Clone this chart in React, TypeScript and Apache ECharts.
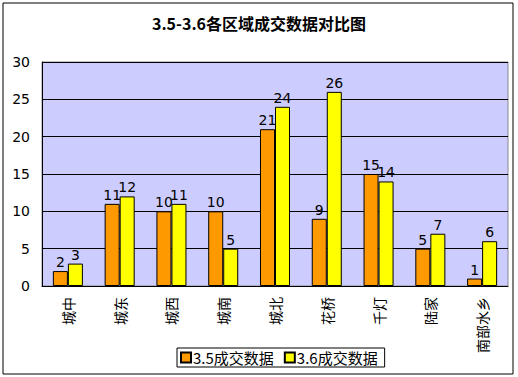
import React, { useEffect, useRef } from "react";
import * as echarts from "echarts";

const categories = ["城中", "城东", "城西", "城南", "城北", "花桥", "千灯", "陆家", "南部水乡"];
const series35 = [2, 11, 10, 10, 21, 9, 15, 5, 1];
const series36 = [3, 12, 11, 5, 24, 26, 14, 7, 6];
const seriesNames = ["3.5成交数据", "3.6成交数据"];
const titleText = "3.5-3.6各区域成交数据对比图";

export default function App() {
  const ref = useRef<HTMLDivElement>(null);
  useEffect(() => {
    document.body.style.margin = "0";
    const chart = echarts.init(ref.current!, null, { renderer: "svg" });
    const labelStyle = {
      show: true,
      position: "top" as const,
      color: "#000",
      fontSize: 14,
      fontFamily: "DejaVu Sans",
      distance: 2,
    };
    chart.setOption({
      animation: false,
      backgroundColor: "#fff",
      title: {
        text: titleText,
        left: "center",
        top: 10,
        textStyle: { fontSize: 16, fontWeight: "bold", color: "#000", fontFamily: "Noto Sans CJK SC" },
      },
      graphic: [
        {
          type: "rect",
          shape: { x: 3, y: 3, width: 510, height: 371 },
          style: { fill: "none", stroke: "#000", lineWidth: 1 },
          silent: true,
        },
      ],
      legend: {
        data: seriesNames,
        left: 177,
        top: 348,
        itemWidth: 10,
        itemHeight: 10,
        itemGap: 10,
        icon: "rect",
        borderColor: "#000",
        borderWidth: 1,
        padding: [2, 7, 2, 3],
        textStyle: { fontSize: 15, color: "#000", fontFamily: "Noto Sans CJK SC", padding: [0, 0, 0, -3] },
      },
      grid: { left: 42, right: 10, top: 62, bottom: 91, show: true, backgroundColor: "#CCCCFF", borderColor: "#888", borderWidth: 1 },
      xAxis: {
        type: "category",
        data: categories,
        axisLine: { lineStyle: { color: "#000" } },
        axisTick: { inside: true, length: 5, lineStyle: { color: "#000" } },
        axisLabel: { rotate: 90, color: "#000", fontSize: 14, margin: 11, fontFamily: "Noto Sans CJK SC" },
      },
      yAxis: {
        type: "value",
        min: 0,
        max: 30,
        interval: 5,
        axisLine: { show: true, lineStyle: { color: "#000" } },
        axisTick: { show: false },
        splitLine: { lineStyle: { color: "#000", width: 1 } },
        axisLabel: { color: "#000", fontSize: 14, margin: 12, fontFamily: "DejaVu Sans" },
      },
      series: [
        {
          name: seriesNames[0],
          type: "bar",
          data: series35,
          barGap: "0%",
          barCategoryGap: "42%",
          itemStyle: { color: "#FF9900", borderColor: "#000", borderWidth: 1 },
          label: labelStyle,
        },
        {
          name: seriesNames[1],
          type: "bar",
          data: series36,
          itemStyle: { color: "#FFFF00", borderColor: "#000", borderWidth: 1 },
          label: labelStyle,
        },
      ],
    });
    return () => chart.dispose();
  }, []);
  return <div ref={ref} style={{ width: 518, height: 377 }} />;
}
